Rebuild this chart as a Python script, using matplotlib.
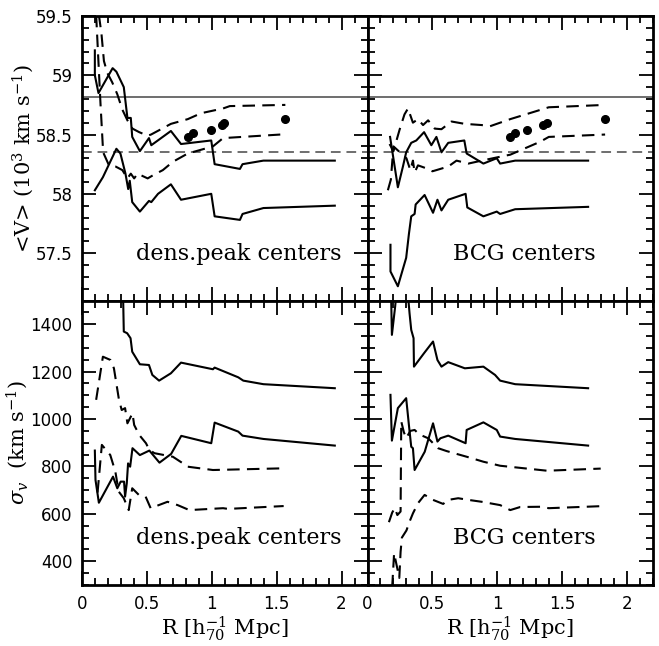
import matplotlib
matplotlib.use("Agg")
import matplotlib.pyplot as plt
from matplotlib.ticker import MultipleLocator

plt.rcParams['mathtext.fontset'] = 'dejavuserif'

# ---------------- data ----------------
# <V> panel, density-peak centers
vdp_hi_x = [0.099, 0.099, 0.127, 0.236, 0.265, 0.322, 0.350, 0.376, 0.387, 0.446, 0.516, 0.534, 0.685, 0.763, 0.996, 1.022, 1.217, 1.237, 1.398, 1.948]
vdp_hi_y = [59.21, 59.00, 58.85, 59.06, 59.03, 58.90, 58.64, 58.64, 58.48, 58.36, 58.47, 58.41, 58.53, 58.42, 58.45, 58.25, 58.21, 58.25, 58.28, 58.28]
vdp_lo_x = [0.099, 0.161, 0.265, 0.296, 0.335, 0.356, 0.368, 0.387, 0.446, 0.516, 0.534, 0.586, 0.685, 0.763, 0.996, 1.022, 1.217, 1.237, 1.398, 1.948]
vdp_lo_y = [58.03, 58.14, 58.38, 58.34, 58.17, 58.04, 58.11, 57.93, 57.85, 57.94, 57.93, 58.00, 58.08, 57.95, 58.00, 57.81, 57.78, 57.83, 57.88, 57.90]
vdp_dhi_x = [0.130, 0.150, 0.169, 0.195, 0.233, 0.272, 0.311, 0.350, 0.389, 0.441, 0.506, 0.532, 0.685, 0.815, 0.918, 1.087, 1.139, 1.567]
vdp_dhi_y = [59.51, 59.35, 59.12, 59.02, 58.94, 58.84, 58.71, 58.62, 58.55, 58.52, 58.49, 58.50, 58.59, 58.63, 58.68, 58.72, 58.74, 58.75]
vdp_dlo_x = [0.109, 0.143, 0.163, 0.208, 0.259, 0.311, 0.350, 0.376, 0.402, 0.428, 0.506, 0.545, 0.623, 0.700, 0.815, 1.009, 1.087, 1.528]
vdp_dlo_y = [59.51, 58.75, 58.35, 58.24, 58.23, 58.20, 58.13, 58.17, 58.13, 58.17, 58.13, 58.155, 58.20, 58.27, 58.34, 58.40, 58.47, 58.50]
vdp_dots_x = [0.815, 0.853, 0.996, 1.082, 1.095, 1.562]
vdp_dots_y = [58.477, 58.51, 58.54, 58.58, 58.60, 58.63]

# <V> panel, BCG centers
vbcg_hi_x = [0.174, 0.234, 0.273, 0.298, 0.337, 0.376, 0.436, 0.492, 0.531, 0.570, 0.622, 0.746, 0.764, 0.893, 0.996, 1.022, 1.138, 1.70]
vbcg_hi_y = [58.48, 58.055, 58.23, 58.35, 58.43, 58.45, 58.52, 58.41, 58.48, 58.35, 58.43, 58.45, 58.34, 58.255, 58.30, 58.255, 58.28, 58.28]
vbcg_lo_x = [0.177, 0.177, 0.234, 0.298, 0.319, 0.337, 0.363, 0.371, 0.440, 0.505, 0.539, 0.570, 0.622, 0.756, 0.769, 0.893, 0.996, 1.022, 1.138, 1.70]
vbcg_lo_y = [57.57, 57.345, 57.22, 57.46, 57.66, 57.81, 57.83, 57.91, 57.99, 57.84, 57.95, 57.86, 57.95, 58.00, 57.885, 57.81, 57.85, 57.83, 57.87, 57.89]
vbcg_dhi_x = [0.17, 0.20, 0.247, 0.285, 0.312, 0.35, 0.389, 0.428, 0.467, 0.518, 0.57, 0.647, 0.75, 0.88, 0.944, 1.10, 1.397, 1.831]
vbcg_dhi_y = [58.42, 58.36, 58.54, 58.67, 58.72, 58.60, 58.63, 58.58, 58.62, 58.55, 58.545, 58.61, 58.59, 58.58, 58.57, 58.63, 58.73, 58.75]
vbcg_dlo_x = [0.157, 0.18, 0.20, 0.24, 0.30, 0.33, 0.35, 0.363, 0.389, 0.415, 0.453, 0.50, 0.531, 0.622, 0.686, 0.777, 0.88, 1.01, 1.10, 1.332, 1.397, 1.831]
vbcg_dlo_y = [58.03, 58.12, 58.40, 58.36, 58.30, 58.20, 58.28, 58.18, 58.24, 58.23, 58.215, 58.19, 58.20, 58.23, 58.28, 58.255, 58.28, 58.31, 58.33, 58.44, 58.48, 58.50]
vbcg_dots_x = [1.10, 1.133, 1.229, 1.35, 1.384, 1.831]
vbcg_dots_y = [58.477, 58.51, 58.54, 58.58, 58.60, 58.63]

v_ref_solid = 58.815
v_ref_dashed = 58.354

# sigma panel, density-peak centers
sdp_hi_x = [0.317, 0.322, 0.348, 0.374, 0.387, 0.446, 0.516, 0.542, 0.594, 0.685, 0.763, 1.009, 1.022, 1.204, 1.243, 1.398, 1.948]
sdp_hi_y = [1510, 1369, 1362, 1341, 1284, 1231, 1228, 1186, 1162, 1193, 1238, 1210, 1217, 1176, 1162, 1147, 1130]
sdp_lo_x = [0.099, 0.104, 0.130, 0.239, 0.272, 0.298, 0.324, 0.332, 0.345, 0.355, 0.371, 0.389, 0.446, 0.519, 0.597, 0.687, 0.765, 0.996, 1.022, 1.204, 1.237, 1.398, 1.948]
sdp_lo_y = [867, 743, 647, 757, 708, 736, 736, 673, 729, 813, 799, 877, 848, 867, 816, 853, 929, 898, 985, 947, 930, 916, 888]
sdp_dhi_x = [0.109, 0.161, 0.22, 0.246, 0.285, 0.306, 0.332, 0.35, 0.389, 0.402, 0.441, 0.493, 0.519, 0.558, 0.70, 0.778, 0.815, 1.009, 1.541]
sdp_dhi_y = [1081, 1263, 1249, 1214, 1081, 1038, 1046, 982, 1024, 975, 933, 898, 870, 856, 841, 813, 799, 785, 792]
sdp_dlo_x = [0.12, 0.153, 0.218, 0.257, 0.283, 0.322, 0.36, 0.387, 0.438, 0.49, 0.529, 0.659, 0.737, 0.827, 1.087, 1.126, 1.554]
sdp_dlo_y = [690, 891, 848, 778, 694, 666, 616, 708, 680, 673, 624, 651, 637, 616, 624, 621, 633]

# sigma panel, BCG centers
sbcg_hi_x = [0.182, 0.188, 0.213, 0.235, 0.30, 0.324, 0.337, 0.355, 0.358, 0.436, 0.505, 0.539, 0.57, 0.622, 0.75, 0.893, 0.983, 1.022, 1.138, 1.70]
sbcg_hi_y = [1520, 1355, 1474, 1600, 1600, 1446, 1376, 1341, 1221, 1278, 1327, 1249, 1221, 1240, 1214, 1221, 1186, 1162, 1147, 1130]
sbcg_lo_x = [0.177, 0.188, 0.234, 0.298, 0.319, 0.337, 0.35, 0.363, 0.441, 0.505, 0.539, 0.562, 0.622, 0.756, 0.764, 0.893, 0.996, 1.022, 1.138, 1.70]
sbcg_lo_y = [1102, 909, 1046, 1088, 975, 883, 877, 785, 862, 982, 905, 919, 930, 898, 954, 986, 954, 926, 916, 888]
sbcg_dhi_x = [0.165, 0.19, 0.21, 0.23, 0.255, 0.26, 0.28, 0.298, 0.33, 0.363, 0.40, 0.467, 0.544, 0.609, 0.764, 0.893, 1.022, 1.126, 1.384, 1.797]
sbcg_dhi_y = [565, 605, 625, 595, 610, 990, 945, 919, 950, 954, 935, 919, 877, 865, 841, 820, 803, 797, 782, 791]
sbcg_dlo_x = [0.19, 0.205, 0.245, 0.255, 0.265, 0.30, 0.324, 0.35, 0.389, 0.44, 0.505, 0.583, 0.622, 0.699, 0.777, 0.88, 1.022, 1.10, 1.177, 1.332, 1.397, 1.823]
sbcg_dlo_y = [290, 434, 330, 440, 500, 530, 567, 602, 645, 680, 659, 642, 659, 666, 659, 651, 637, 616, 629, 630, 624, 633]

x_ticks = [0, 0.5, 1, 1.5, 2]
x_ticklabels = ["0", "0.5", "1", "1.5", "2"]
v_ticks = [57.5, 58, 58.5, 59, 59.5]
v_ticklabels = ["57.5", "58", "58.5", "59", "59.5"]
s_ticks = [400, 600, 800, 1000, 1200, 1400]
s_ticklabels = ["400", "600", "800", "1000", "1200", "1400"]
panel_labels = ["dens.peak centers", "BCG centers"]

# ---------------- figure ----------------
fig, axes = plt.subplots(2, 2, figsize=(6.59, 6.46), dpi=100)
fig.subplots_adjust(left=82/659, right=653/659, bottom=1-585/646, top=1-16/646,
                    wspace=0, hspace=0)

LW = 1.5
DASH = (0, (6, 3.5))
GRAY = '#6e6e6e'

def style(ax, ylim, ymaj, ymin):
    ax.set_xlim(0, 2.2)
    ax.set_ylim(*ylim)
    ax.xaxis.set_major_locator(MultipleLocator(0.5))
    ax.xaxis.set_minor_locator(MultipleLocator(0.1))
    ax.yaxis.set_major_locator(MultipleLocator(ymaj))
    ax.yaxis.set_minor_locator(MultipleLocator(ymin))
    ax.tick_params(which='both', direction='in', top=True, right=True,
                   labelsize=12, width=1.3)
    ax.tick_params(which='major', length=10)
    ax.tick_params(which='minor', length=5)
    ax.tick_params(axis='x', which='major', pad=7)
    ax.tick_params(axis='y', which='major', pad=7)
    for s in ax.spines.values():
        s.set_linewidth(2)

top_data = [
    (vdp_hi_x, vdp_hi_y, vdp_lo_x, vdp_lo_y, vdp_dhi_x, vdp_dhi_y, vdp_dlo_x, vdp_dlo_y, vdp_dots_x, vdp_dots_y),
    (vbcg_hi_x, vbcg_hi_y, vbcg_lo_x, vbcg_lo_y, vbcg_dhi_x, vbcg_dhi_y, vbcg_dlo_x, vbcg_dlo_y, vbcg_dots_x, vbcg_dots_y),
]
bot_data = [
    (sdp_hi_x, sdp_hi_y, sdp_lo_x, sdp_lo_y, sdp_dhi_x, sdp_dhi_y, sdp_dlo_x, sdp_dlo_y),
    (sbcg_hi_x, sbcg_hi_y, sbcg_lo_x, sbcg_lo_y, sbcg_dhi_x, sbcg_dhi_y, sbcg_dlo_x, sbcg_dlo_y),
]

for j in range(2):
    ax = axes[0, j]
    hx, hy, lx, ly, dhx, dhy, dlx, dly, ox, oy = top_data[j]
    ax.axhline(v_ref_solid, color=GRAY, lw=1.4)
    ax.axhline(v_ref_dashed, color=GRAY, lw=1.4, linestyle=(0, (5, 3)))
    ax.plot(hx, hy, color='k', lw=LW)
    ax.plot(lx, ly, color='k', lw=LW)
    ax.plot(dhx, dhy, color='k', lw=LW, linestyle=DASH)
    ax.plot(dlx, dly, color='k', lw=LW, linestyle=DASH)
    ax.plot(ox, oy, 'o', color='k', ms=5.5)
    style(ax, (57.1, 59.5), 0.5, 0.1)
    ax.text(1.21, 57.49, panel_labels[j], ha='center', va='center',
            fontsize=16, family='DejaVu Serif')
    ax.set_xticklabels([])

    ax = axes[1, j]
    hx, hy, lx, ly, dhx, dhy, dlx, dly = bot_data[j]
    ax.plot(hx, hy, color='k', lw=LW)
    ax.plot(lx, ly, color='k', lw=LW)
    ax.plot(dhx, dhy, color='k', lw=LW, linestyle=DASH)
    ax.plot(dlx, dly, color='k', lw=LW, linestyle=DASH)
    style(ax, (300, 1500), 200, 50)
    ax.text(1.21, 498, panel_labels[j], ha='center', va='center',
            fontsize=16, family='DejaVu Serif')
    ax.set_xticks(x_ticks)
    ax.set_xticklabels(x_ticklabels)
    ax.set_xlabel(r'R [h$_{70}^{-1}$ Mpc]', fontsize=15, family='DejaVu Serif', labelpad=1)

axes[0, 0].set_yticks(v_ticks)
axes[0, 0].set_yticklabels(v_ticklabels)
axes[1, 0].set_yticks(s_ticks)
axes[1, 0].set_yticklabels(s_ticklabels)
axes[0, 1].set_yticklabels([])
axes[1, 1].set_yticklabels([])

axes[0, 0].set_ylabel(r'<V> (10$^3$ km s$^{-1}$)', fontsize=15, family='DejaVu Serif', labelpad=0)
axes[1, 0].set_ylabel(r'$\sigma_v$  (km s$^{-1}$)', fontsize=15, family='DejaVu Serif', labelpad=0)

fig.savefig('out.png', dpi=100)
